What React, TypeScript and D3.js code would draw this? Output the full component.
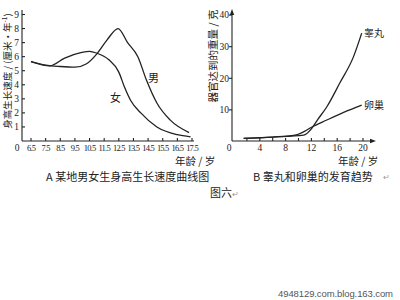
import React from "react";
import * as d3 from "d3";

// Chart A: height growth velocity (cm/yr) by age
const ageTicksA = ["6.5", "7.5", "8.5", "9.5", "10.5", "11.5", "12.5", "13.5", "14.5", "15.5", "16.5", "17.5"];
const yTicksA = [1, 2, 3, 4, 5, 6, 7, 8, 9];
const boyAge = [6.5, 7.5, 8.5, 9.5, 10.3, 11.0, 11.7, 12.45, 13.1, 13.8, 14.4, 15.1, 16.0, 17.3];
const boyVal = [5.65, 5.4, 5.3, 5.25, 5.5, 6.2, 7.2, 8.0, 7.0, 6.0, 4.3, 2.7, 1.5, 0.6];
const girlAge = [6.5, 7.8, 8.8, 9.9, 10.5, 11.0, 11.8, 12.5, 12.9, 13.3, 14.0, 15.1, 16.5, 17.4];
const girlVal = [5.65, 5.35, 5.9, 6.28, 6.38, 6.25, 5.8, 4.9, 3.8, 2.9, 2.0, 1.0, 0.45, 0.3];

// Chart B: organ weight (g) by age
const xTicksB = [0, 4, 8, 12, 16, 20];
const xMinorB = [2, 4, 6, 8, 10, 12, 14, 16, 18, 20];
const yTicksB = [10, 20, 30, 40];
const testisAge = [1.5, 6, 10.8, 12, 13, 14.4, 16.4, 18.5, 19.8];
const testisVal = [1.0, 1.4, 2.0, 4.0, 7.0, 11, 18.5, 26.7, 34.3];
const ovaryAge = [1.5, 6, 9.8, 11, 12, 14.4, 17, 19.8];
const ovaryVal = [1.0, 1.4, 2.2, 3.3, 4.5, 6.8, 9.2, 11.5];

const serif = "'Liberation Serif', 'DejaVu Serif', serif";
const cjk = "'Noto Sans CJK SC', sans-serif";
const ink = "#222";

export default function App() {
  const xA = d3.scaleLinear().domain([6.5, 17.5]).range([31, 192]);
  const yA = d3.scaleLinear().domain([0, 9]).range([141, 14.5]);
  const xB = d3.scaleLinear().domain([0, 20]).range([234, 363]);
  const yB = d3.scaleLinear().domain([0, 40]).range([141.5, 15.1]);

  const lineA = d3
    .line<[number, number]>()
    .x((d) => xA(d[0]))
    .y((d) => yA(d[1]))
    .curve(d3.curveMonotoneX);
  const lineB = d3
    .line<[number, number]>()
    .x((d) => xB(d[0]))
    .y((d) => yB(d[1]))
    .curve(d3.curveMonotoneX);

  const boy = lineA(boyAge.map((a, i) => [a, boyVal[i]] as [number, number])) || "";
  const girl = lineA(girlAge.map((a, i) => [a, girlVal[i]] as [number, number])) || "";
  const testis = lineB(testisAge.map((a, i) => [a, testisVal[i]] as [number, number])) || "";
  const ovary = lineB(ovaryAge.map((a, i) => [a, ovaryVal[i]] as [number, number])) || "";

  const axA = 22;
  const ayA = 141;
  const axB = 232;
  const ayB = 141;

  return (
    <svg
      width={400}
      height={300}
      style={{ position: "absolute", left: 0, top: 0, background: "#fff" }}
    >
      <rect x={0} y={0} width={400} height={300} fill="#fff" />

      {/* ---------- Chart A ---------- */}
      <g stroke={ink} fill="none" strokeWidth={1.1}>
        <line x1={axA} y1={10} x2={axA} y2={ayA} />
        <line x1={axA} y1={ayA} x2={194} y2={ayA} />
        {yTicksA.map((t) => (
          <line key={"yta" + t} x1={axA} x2={axA + 3} y1={yA(t)} y2={yA(t)} />
        ))}
        {ageTicksA.map((t) => (
          <line key={"xta" + t} x1={xA(+t)} x2={xA(+t)} y1={ayA} y2={ayA - 3} />
        ))}
      </g>
      <g fontFamily={serif} fontSize={9.5} fill={ink}>
        {yTicksA.map((t) => (
          <text key={"ylab" + t} x={19} y={yA(t) + 3.3} textAnchor="end">
            {t}
          </text>
        ))}
        <text x={17} y={150.5} textAnchor="middle">0</text>
        {ageTicksA.map((t) => (
          <text
            key={"xlab" + t}
            x={xA(+t)}
            y={150.5}
            textAnchor="middle"
            fontSize={8.5}
            letterSpacing={-0.8}
          >
            {t}
          </text>
        ))}
      </g>
      <path d={boy} fill="none" stroke={ink} strokeWidth={1.3} />
      <path d={girl} fill="none" stroke={ink} strokeWidth={1.3} />
      <text x={148} y={82} fontFamily={cjk} fontSize={11} fill={ink}>男</text>
      <text x={110} y={102} fontFamily={cjk} fontSize={11} fill={ink}>女</text>
      <text
        transform="translate(10.5,71) rotate(-90)"
        textAnchor="middle"
        fontFamily={cjk}
        fontSize={9.5}
        fill={ink}
      >
        身高生长速度 / (厘米·年<tspan dy={-3.5} fontSize={6.5}>-1</tspan>
        <tspan dy={3.5}>)</tspan>
      </text>
      <text x={175} y={165} fontFamily={cjk} fontSize={10.5} fill={ink}>年龄 / 岁</text>
      <text x={46} y={181} fontFamily={cjk} fontSize={11} fill={ink}>
        A 某地男女生身高生长速度曲线图
      </text>

      {/* ---------- Chart B ---------- */}
      <g stroke={ink} fill="none" strokeWidth={1.1}>
        <line x1={axB} y1={13} x2={axB} y2={ayB} />
        <line x1={axB} y1={ayB} x2={372} y2={ayB} />
        {yTicksB.map((t) => (
          <line key={"ytb" + t} x1={axB} x2={axB - 3} y1={yB(t)} y2={yB(t)} />
        ))}
        {xMinorB.map((t) => (
          <line key={"xtb" + t} x1={xB(t)} x2={xB(t)} y1={ayB} y2={ayB - 3} />
        ))}
      </g>
      <path d={`M${axB},9 L${axB - 2.2},15 L${axB + 2.2},15 Z`} fill={ink} />
      <path d={`M376,${ayB} L370,${ayB - 2.2} L370,${ayB + 2.2} Z`} fill={ink} />
      <g fontFamily={serif} fontSize={9.5} fill={ink}>
        {yTicksB.map((t) => (
          <text key={"ylb" + t} x={229} y={yB(t) + 3.3} textAnchor="end">
            {t}
          </text>
        ))}
        {xTicksB.map((t) => (
          <text
            key={"xlb" + t}
            x={t === 0 ? 229 : xB(t)}
            y={150.5}
            textAnchor="middle"
          >
            {t}
          </text>
        ))}
      </g>
      <path d={testis} fill="none" stroke={ink} strokeWidth={1.3} />
      <path d={ovary} fill="none" stroke={ink} strokeWidth={1.3} />
      <text x={364} y={37} fontFamily={cjk} fontSize={10} fill={ink}>睾丸</text>
      <text x={364} y={109} fontFamily={cjk} fontSize={10} fill={ink}>卵巢</text>
      <text
        transform="translate(216.5,56) rotate(-90)"
        textAnchor="middle"
        fontFamily={cjk}
        fontSize={10.5}
        fill={ink}
      >
        器官达到的重量 / 克
      </text>
      <text x={338} y={165} fontFamily={cjk} fontSize={10.5} fill={ink}>年龄 / 岁</text>
      <text x={253} y={181} fontFamily={cjk} fontSize={11} fill={ink}>
        B 睾丸和卵巢的发育趋势
      </text>
      <text x={383} y={180} fontFamily={cjk} fontSize={8} fill="#999">↵</text>
      <text x={210} y={197} fontFamily={cjk} fontSize={11} fill={ink}>
        图六<tspan fontSize={8} fill="#999">↵</tspan>
      </text>

      <text
        x={278}
        y={297}
        fontFamily="'Liberation Sans', Arial, sans-serif"
        fontSize={9.5}
        textLength={115}
        lengthAdjust="spacing"
        fill="#555"
      >
        4948129.com.blog.163.com
      </text>
    </svg>
  );
}
